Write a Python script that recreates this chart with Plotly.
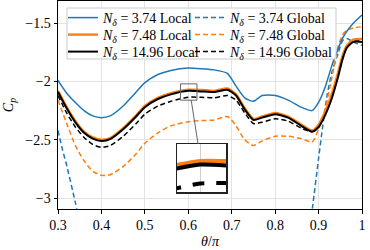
import plotly.graph_objects as go

theta = [0.30, 0.32, 0.34, 0.36, 0.38, 0.40, 0.42, 0.45, 0.48, 0.50, 0.53, 0.56,
         0.60, 0.63, 0.66, 0.69, 0.71, 0.73, 0.75, 0.77, 0.80, 0.83, 0.86, 0.885,
         0.90, 0.915, 0.93, 0.945, 0.955, 0.965, 0.98, 1.00]

local_374 = [-1.99, -2.10, -2.18, -2.25, -2.295, -2.31, -2.295, -2.21, -2.09, -2.01, -1.94, -1.905,
             -1.885, -1.89, -1.90, -1.93, -2.04, -2.14, -2.17, -2.12, -2.12, -2.16, -2.22, -2.25,
             -2.18, -2.05, -1.87, -1.72, -1.63, -1.57, -1.50, -1.43]
local_748 = [-2.08, -2.22, -2.34, -2.43, -2.48, -2.50, -2.485, -2.40, -2.29, -2.21, -2.14, -2.10,
             -2.07, -2.072, -2.08, -2.06, -2.11, -2.23, -2.32, -2.30, -2.27, -2.30, -2.37, -2.42,
             -2.37, -2.26, -2.11, -1.92, -1.78, -1.69, -1.64, -1.635]
local_1496 = [-2.09, -2.23, -2.35, -2.44, -2.49, -2.51, -2.495, -2.41, -2.30, -2.22, -2.15, -2.11,
              -2.08, -2.085, -2.09, -2.07, -2.12, -2.24, -2.33, -2.31, -2.28, -2.31, -2.38, -2.43,
              -2.39, -2.29, -2.15, -1.96, -1.81, -1.71, -1.66, -1.66]
global_748 = [-2.16, -2.36, -2.55, -2.68, -2.77, -2.805, -2.80, -2.73, -2.62, -2.53, -2.44, -2.38,
              -2.345, -2.335, -2.33, -2.30, -2.38, -2.50, -2.55, -2.51, -2.47, -2.47, -2.49, -2.52,
              -2.41, -2.24, -1.98, -1.70, -1.60, -1.56, -1.54, -1.53]
global_1496 = [-2.12, -2.27, -2.39, -2.48, -2.54, -2.565, -2.55, -2.47, -2.36, -2.28, -2.21, -2.17,
               -2.135, -2.135, -2.14, -2.12, -2.16, -2.27, -2.36, -2.35, -2.32, -2.34, -2.40, -2.43,
               -2.38, -2.28, -2.14, -1.95, -1.81, -1.71, -1.655, -1.65]

theta_g374 = [0.30, 0.31, 0.32, 0.34, 0.36, None, 0.87, 0.886, 0.90, 0.91, 0.92, 0.93,
              0.945, 0.955, 0.965, 0.98, 1.00]
global_374 = [-2.42, -2.58, -2.72, -3.04, -3.40, None, -3.50, -3.08, -2.66, -2.37, -2.11, -1.93,
              -1.76, -1.65, -1.63, -1.66, -1.69]

labels_n = ["3.74", "7.48", "14.96"]
x_ticks = [0.3, 0.4, 0.5, 0.6, 0.7, 0.8, 0.9, 1.0]
x_ticktext = ["0.3", "0.4", "0.5", "0.6", "0.7", "0.8", "0.9", "1"]
y_ticks = [-1.5, -2.0, -2.5, -3.0]
y_ticktext = ["\u22121.5", "\u22122", "\u22122.5", "\u22123"]

inset_x = [0.582, 0.620]
inset_y = [-2.16, -2.02]

BLUE, ORANGE, BLACK = "#1f77b4", "#ff7f0e", "#000000"
FONT = "Liberation Serif"

W, H = 370, 250
ml, mr, mt, mb = 58, 8, 1, 41
pw, ph = W - ml - mr, H - mt - mb
x_range = [0.3, 1.0]
y_range = [-3.094, -1.309]

fig = go.Figure()

def name(n, kind):
    return f"<i>N</i><sub><i>δ</i></sub> = {n} {kind}"

DASH = "5px,3px"
sm = 0.6
# Global (dashed)
fig.add_trace(go.Scatter(x=theta_g374, y=global_374, mode="lines", connectgaps=False,
                         line=dict(color=BLUE, width=1.5, dash=DASH, shape="spline", smoothing=sm),
                         name=name(labels_n[0], "Global"), legend="legend4"))
fig.add_trace(go.Scatter(x=theta, y=global_748, mode="lines",
                         line=dict(color=ORANGE, width=1.5, dash=DASH, shape="spline", smoothing=sm),
                         name=name(labels_n[1], "Global"), legend="legend5"))
fig.add_trace(go.Scatter(x=theta, y=global_1496, mode="lines",
                         line=dict(color=BLACK, width=1.5, dash=DASH, shape="spline", smoothing=sm),
                         name=name(labels_n[2], "Global"), legend="legend6"))
# Local (solid)
fig.add_trace(go.Scatter(x=theta, y=local_374, mode="lines",
                         line=dict(color=BLUE, width=1.5, shape="spline", smoothing=sm),
                         name=name(labels_n[0], "Local"), legend="legend"))
fig.add_trace(go.Scatter(x=theta, y=local_748, mode="lines",
                         line=dict(color=ORANGE, width=2.4, shape="spline", smoothing=sm),
                         name=name(labels_n[1], "Local"), legend="legend2"))
fig.add_trace(go.Scatter(x=theta, y=local_1496, mode="lines",
                         line=dict(color=BLACK, width=2.0, shape="spline", smoothing=sm),
                         name=name(labels_n[2], "Local"), legend="legend3"))

# Inset traces
fig.add_trace(go.Scatter(x=theta, y=global_1496, mode="lines", xaxis="x2", yaxis="y2", showlegend=False,
                         line=dict(color=BLACK, width=4, dash="12px,12px", shape="spline", smoothing=sm)))
fig.add_trace(go.Scatter(x=theta, y=local_748, mode="lines", xaxis="x2", yaxis="y2", showlegend=False,
                         line=dict(color=ORANGE, width=4.5, shape="spline", smoothing=sm)))
fig.add_trace(go.Scatter(x=theta, y=local_1496, mode="lines", xaxis="x2", yaxis="y2", showlegend=False,
                         line=dict(color=BLACK, width=4, shape="spline", smoothing=sm)))

inset_dom_x = [(177 - ml) / pw, (226 - ml) / pw]
inset_dom_y = [1 - (192 - mt) / ph, 1 - (144 - mt) / ph]

axis_common = dict(showline=True, linecolor="black", linewidth=1, mirror=True, automargin=False,
                   ticks="outside", ticklen=3.5, tickcolor="black", tickwidth=1,
                   showgrid=True, gridcolor="#e3e3e3", gridwidth=1, zeroline=False,
                   tickfont=dict(family=FONT, size=14, color="black"))

def leg(px_x, px_y):
    return dict(x=(px_x - ml) / pw, y=1 - (px_y - mt) / ph, xanchor="left", yanchor="middle",
                bgcolor="rgba(0,0,0,0)", borderwidth=0, font=dict(family=FONT, size=14, color="black"),
                tracegroupgap=0)

col1, col2 = 63, 190
rows = [18, 35, 52]

fig.update_layout(
    template="none",
    width=W, height=H, margin=dict(l=ml, r=mr, t=mt, b=mb),
    paper_bgcolor="white", plot_bgcolor="white",
    hovermode=False,
    font=dict(family=FONT, size=14, color="black"),
    xaxis=dict(range=x_range, tickvals=x_ticks, ticktext=x_ticktext,
               title=dict(text="<i>θ</i>/<i>π</i>", font=dict(family=FONT, size=14), standoff=3), **axis_common),
    yaxis=dict(range=y_range, tickvals=y_ticks, ticktext=y_ticktext,
               title=dict(text="<i>C<sub>p</sub></i>", font=dict(family=FONT, size=14), standoff=8), **axis_common),
    xaxis2=dict(domain=inset_dom_x, anchor="y2", range=inset_x, tickvals=[0.6], showticklabels=False,
                ticks="", showgrid=True, gridcolor="#cfcfcf", showline=True, mirror=True, linecolor="#222",
                linewidth=1.5, zeroline=False),
    yaxis2=dict(domain=inset_dom_y, anchor="x2", range=inset_y, showticklabels=False, ticks="",
                showgrid=False, showline=True, mirror=True, linecolor="#222", linewidth=1.5, zeroline=False),
    legend=leg(col1, rows[0]), legend2=leg(col1, rows[1]), legend3=leg(col1, rows[2]),
    legend4=leg(col2, rows[0]), legend5=leg(col2, rows[1]), legend6=leg(col2, rows[2]),
    showlegend=True,
)

# legend frame
fig.add_shape(type="rect", xref="paper", yref="paper",
              x0=(67 - ml) / pw, x1=(336 - ml) / pw, y0=1 - (59 - mt) / ph, y1=1 - (8 - mt) / ph,
              line=dict(color="#cccccc", width=1), fillcolor="rgba(255,255,255,0.85)", layer="above")
# inset region marker
fig.add_shape(type="rect", xref="x", yref="y", x0=inset_x[0], x1=inset_x[1], y0=inset_y[0], y1=inset_y[1],
              line=dict(color="#666666", width=1), layer="above")
# connector from marker to inset
ins_top_y = y_range[0] + inset_dom_y[1] * (y_range[1] - y_range[0])
ins_x = x_range[0] + (inset_dom_x[0] + 0.43 * (inset_dom_x[1] - inset_dom_x[0])) * (x_range[1] - x_range[0])
fig.add_shape(type="line", xref="x", yref="y", x0=inset_x[0] + 0.65 * (inset_x[1] - inset_x[0]), y0=inset_y[0],
              x1=ins_x, y1=ins_top_y, line=dict(color="#666666", width=1), layer="above")

fig.write_html("out.html", config={"displayModeBar": False, "staticPlot": True},
               post_script="document.body.style.margin='0';document.body.style.padding='0';")
